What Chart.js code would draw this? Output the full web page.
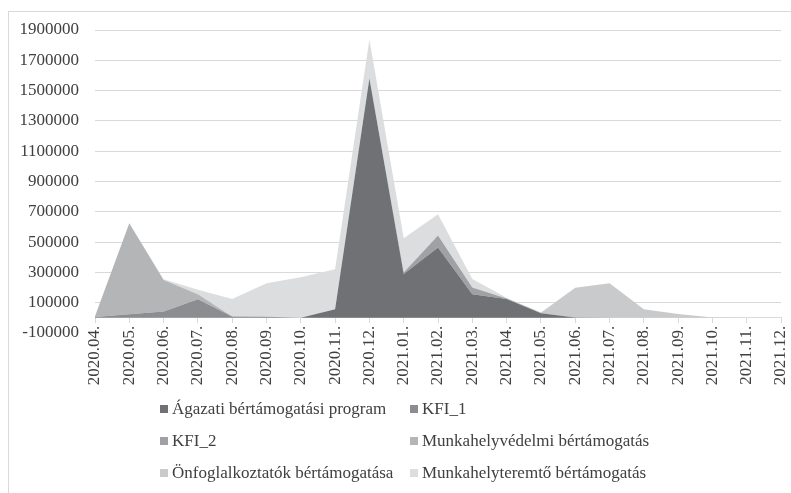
<!DOCTYPE html>
<html>
<head>
<meta charset="utf-8">
<script src="https://cdn.jsdelivr.net/npm/chart.js@4.4.1/dist/chart.umd.min.js"></script>
<style>
  html, body { margin: 0; padding: 0; background: #fff; overflow: hidden; }
  #wrap { position: relative; width: 791px; height: 493px; }
  #frame { position: absolute; left: 8px; top: 11px; width: 900px; height: 600px; border: 1px solid #d9d9d9; }
  #chart { position: absolute; left: 0; top: 0; }
  #legend {
    position: absolute; left: 160px; top: 393px;
    display: grid; grid-template-columns: 250px 250px; grid-auto-rows: 32px;
    font: 17px "Liberation Serif", serif; color: #404040;
  }
  #legend div { display: flex; align-items: center; white-space: nowrap; }
  #legend span.box { width: 8px; height: 8px; margin-right: 4px; display: inline-block; }
</style>
</head>
<body>
<div id="wrap">
  <div id="frame"></div>
  <canvas id="chart" width="791" height="493"></canvas>
  <div id="legend"></div>
</div>
<script>
const months = ["2020.04.", "2020.05.", "2020.06.", "2020.07.", "2020.08.", "2020.09.", "2020.10.",
  "2020.11.", "2020.12.", "2021.01.", "2021.02.", "2021.03.", "2021.04.", "2021.05.", "2021.06.",
  "2021.07.", "2021.08.", "2021.09.", "2021.10.", "2021.11.", "2021.12."];

const agazati = [0, 0, 0, 0, 0, 0, 0, 57000, 1580000, 290000, 464000, 156000, 125000, 30000, 3000, 0, 0, 0, 0, 0, 0];
const kfi1 = [5000, 24000, 42000, 123000, 9000, 8000, 0, 0, 0, 0, 0, 0, 0, 0, 0, 0, 0, 0, 0, 0, 0];
const kfi2 = [0, 0, 0, 0, 0, 0, 0, 0, 0, 10000, 79000, 44000, 3000, 3000, 0, 0, 0, 0, 0, 0, 0];
const munkahelyvedelmi = [5000, 600000, 208000, 33000, 0, 0, 0, 0, 0, 0, 0, 0, 0, 0, 0, 0, 0, 0, 0, 0, 0];
const onfoglalkoztatok = [0, 0, 0, 0, 0, 0, 0, 0, 0, 0, 0, 0, 0, 0, 196000, 229000, 57000, 26000, 2000, 0, 0];
const munkahelyteremto = [0, 0, 5000, 29000, 116000, 221000, 268000, 264000, 258000, 225000, 141000, 57000, 5000, 3000, 0, 0, 0, 0, 0, 6000, 6000];

const yTicks = { min: -100000, max: 1900000, step: 200000 };

const series = [
  { label: "Ágazati bértámogatási program", data: agazati, color: "#707174" },
  { label: "KFI_1", data: kfi1, color: "#8c8d90" },
  { label: "KFI_2", data: kfi2, color: "#a0a1a4" },
  { label: "Munkahelyvédelmi bértámogatás", data: munkahelyvedelmi, color: "#b4b5b7" },
  { label: "Önfoglalkoztatók bértámogatása", data: onfoglalkoztatok, color: "#c9cacc" },
  { label: "Munkahelyteremtő bértámogatás", data: munkahelyteremto, color: "#dcdddf" }
];

Chart.defaults.font.family = '"Liberation Serif", serif';
Chart.defaults.font.size = 17;
Chart.defaults.color = "#404040";

const chart = new Chart(document.getElementById("chart"), {
  type: "line",
  data: {
    labels: months,
    datasets: series.map((s, i) => ({
      label: s.label,
      data: s.data,
      backgroundColor: s.color,
      borderColor: s.color,
      borderWidth: 0,
      pointRadius: 0,
      tension: 0,
      fill: i === 0 ? "origin" : "-1"
    }))
  },
  options: {
    responsive: false,
    animation: false,
    layout: { padding: { top: 30, right: 10, bottom: 160, left: 0 } },
    plugins: { legend: { display: false }, tooltip: { enabled: false } },
    scales: {
      x: {
        position: { y: 0 },
        offset: false,
        afterFit: scale => { scale.paddingLeft = 0; scale.paddingRight = 0; },
        grid: { drawOnChartArea: false, drawTicks: true, tickLength: 5, color: "#d9d9d9" },
        border: { color: "#d9d9d9" },
        ticks: { autoSkip: false, minRotation: 90, maxRotation: 90, padding: 3 }
      },
      y: {
        stacked: true,
        min: yTicks.min,
        max: yTicks.max,
        afterFit: scale => { scale.width = 95; },
        border: { display: false },
        grid: {
          drawTicks: false,
          color: ctx => (ctx.tick && ctx.tick.value === yTicks.min) ? "rgba(0,0,0,0)" : "#d9d9d9"
        },
        ticks: { stepSize: yTicks.step, padding: 16, callback: v => String(v) }
      }
    }
  }
});

// legend in two columns, like the original
const legendDiv = document.getElementById("legend");
chart.data.datasets.forEach(ds => {
  const item = document.createElement("div");
  item.innerHTML = `<span class="box" style="background:${ds.backgroundColor}"></span>${ds.label}`;
  legendDiv.appendChild(item);
});
</script>
</body>
</html>
